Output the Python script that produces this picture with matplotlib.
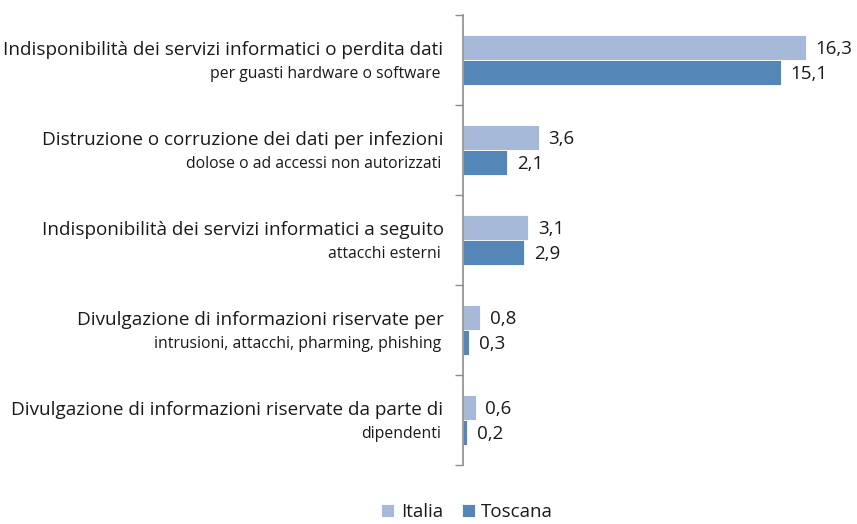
import matplotlib.pyplot as plt
import numpy as np

# dati
categorie = [
    "Indisponibilità dei servizi informatici o perdita dati",
    "Distruzione o corruzione dei dati per infezioni",
    "Indisponibilità dei servizi informatici a seguito",
    "Divulgazione di informazioni riservate per",
    "Divulgazione di informazioni riservate da parte di",
]
sottotitoli = [
    "per guasti hardware o software",
    "dolose o ad accessi non autorizzati",
    "attacchi esterni",
    "intrusioni, attacchi, pharming, phishing",
    "dipendenti",
]
italia = [16.3, 3.6, 3.1, 0.8, 0.6]
toscana = [15.1, 2.1, 2.9, 0.3, 0.2]

c_italia = "#a6b9d9"
c_toscana = "#5586b8"
testo = "#1a1a1a"

plt.rcParams["font.family"] = ["Open Sans", "DejaVu Sans"]

W, H = 857, 524
fig = plt.figure(figsize=(W / 100, H / 100), dpi=100)
ax = fig.add_axes([463 / W, (H - 465) / H, 380 / W, 450 / H])

y = np.arange(len(categorie))
h = 0.28
ax.barh(y - h / 2, italia, height=h, color=c_italia, edgecolor="white", linewidth=0.6, label="Italia")
ax.barh(y + h / 2, toscana, height=h, color=c_toscana, edgecolor="white", linewidth=0.6, label="Toscana")

for i in range(len(categorie)):
    ax.annotate(f"{italia[i]:.1f}".replace(".", ","), (italia[i], y[i] - h / 2),
                xytext=(7, -1), textcoords="offset points", va="center", ha="left",
                fontsize=13.5, color=testo)
    ax.annotate(f"{toscana[i]:.1f}".replace(".", ","), (toscana[i], y[i] + h / 2),
                xytext=(7, -1), textcoords="offset points", va="center", ha="left",
                fontsize=13.5, color=testo)
    ax.annotate(categorie[i], (0, y[i] - h / 2), xytext=(-14, -2), textcoords="offset points",
                ha="right", va="center", fontsize=13.6, color=testo)
    ax.annotate(sottotitoli[i], (0, y[i] + h / 2), xytext=(-16, -1), textcoords="offset points",
                ha="right", va="center", fontsize=11.3, color=testo)

ax.set_xlim(0, 18.06)
ax.set_ylim(len(categorie) - 0.5, -0.5)
ax.set_yticks(np.arange(-0.5, len(categorie), 1.0))
ax.set_yticklabels([])
ax.set_xticks([])
ax.tick_params(axis="y", direction="out", length=6, color="#8c8c8c", width=1)
for s in ["top", "right", "bottom"]:
    ax.spines[s].set_visible(False)
ax.spines["left"].set_color("#8c8c8c")
ax.spines["left"].set_linewidth(1.2)

fig.legend(loc="lower center", bbox_to_anchor=(0.545, -0.026), ncol=2, frameon=False,
           fontsize=13.5, handlelength=0.7, handleheight=0.7, handletextpad=0.35,
           columnspacing=1.0, labelcolor=testo)

fig.savefig("out.png", dpi=100)
